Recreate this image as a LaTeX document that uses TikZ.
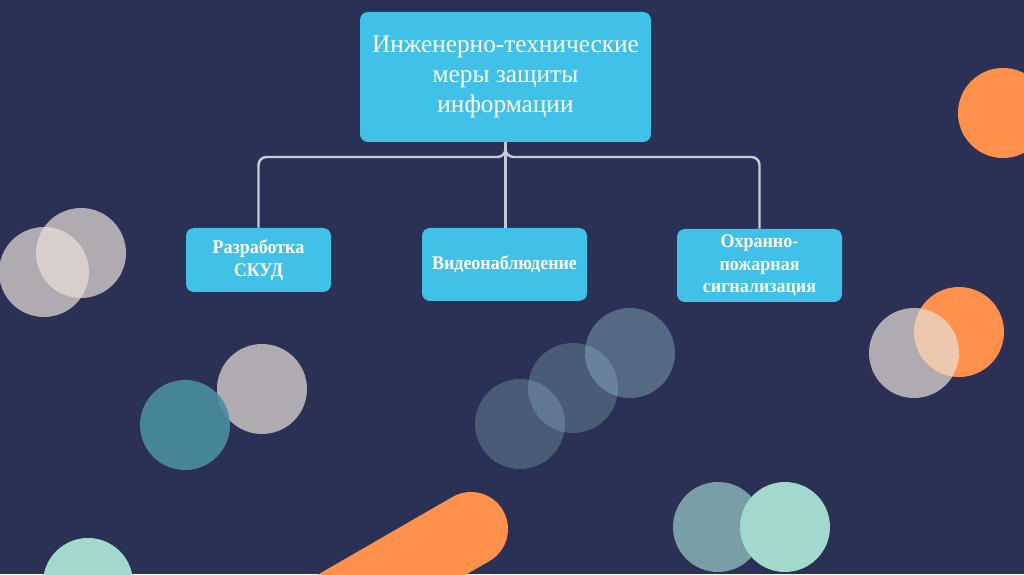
\documentclass[tikz,border=0pt]{standalone}
\usepackage{fontspec}
\setmainfont{Liberation Serif}
\newfontfamily\etroit[FakeStretch=0.93]{Liberation Serif}
\definecolor{fond}{RGB}{42,49,84}
\definecolor{boite}{RGB}{65,193,231}
\definecolor{trait}{RGB}{200,204,216}
\definecolor{orange}{RGB}{255,145,77}
\definecolor{gris}{RGB}{232,224,216}
\definecolor{canard}{RGB}{74,142,159}
\definecolor{brume}{RGB}{150,190,205}
\definecolor{ardoise}{RGB}{122,158,165}
\definecolor{menthe}{RGB}{163,217,204}
\begin{document}
\begin{tikzpicture}
	\fill[fond] (0,0) rectangle (20.48,11.48);
	\useasboundingbox (0,0) rectangle (20.48,11.48);
	\clip (0,0) rectangle (20.48,11.48);

	\tikzstyle{rond}=[opacity=0.7]
	\fill[orange] (20.06,9.22) circle (0.9);
	\fill[orange] (19.18,4.84) circle (0.9);
	\fill[gris,rond] (18.28,4.42) circle (0.9);
	\fill[gris,rond] (0.88,6.04) circle (0.9);
	\fill[gris,rond] (1.62,6.42) circle (0.9);
	\fill[gris,rond] (5.24,3.70) circle (0.9);
	\fill[canard,opacity=0.9] (3.70,2.98) circle (0.9);
	\fill[brume,opacity=0.3] (10.40,3.00) circle (0.9);
	\fill[brume,opacity=0.3] (11.46,3.72) circle (0.9);
	\fill[brume,opacity=0.4] (12.60,4.42) circle (0.9);
	\fill[ardoise] (14.36,0.94) circle (0.9);
	\fill[menthe] (15.70,0.94) circle (0.9);
	\fill[menthe] (1.76,-0.18) circle (0.9);
	\draw[orange,line width=1.48cm,line cap=round] (9.42,0.90) -- (4.22,-2.10);

	\tikzstyle{bloc}=[fill=boite,rounded corners=0.16cm,text=white,align=center,inner sep=2pt]
	\tikzstyle{petit}=[bloc,font=\etroit\bfseries\fontsize{11}{12.8}\selectfont]
	\node[bloc,minimum width=5.82cm,minimum height=2.6cm,font=\fontsize{14.4}{17}\selectfont]
		(T) at (10.11,9.94) {Инженерно-технические\\меры защиты\\информации};
	\node[petit,minimum width=2.9cm,minimum height=1.28cm] (L) at (5.17,6.28) {Разработка\\СКУД};
	\node[petit,minimum width=3.3cm,minimum height=1.46cm] (M) at (10.09,6.19) {Видеонаблюдение};
	\node[petit,minimum width=3.3cm,minimum height=1.46cm] (R) at (15.19,6.17) {Охранно-\\пожарная\\сигнализация};

	\tikzstyle{lien}=[trait,line width=1.4pt,rounded corners=0.16cm]
	\draw[lien] (T.south) |- (L.north |- 0,8.34) -- (L.north);
	\draw[lien] (T.south) |- (R.north |- 0,8.34) -- (R.north);
	\draw[lien] (T.south) -- (T.south |- M.north);
\end{tikzpicture}
\end{document}
